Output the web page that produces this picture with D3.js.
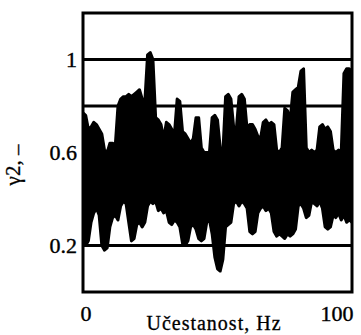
<!DOCTYPE html>
<html>
<head>
<meta charset="utf-8">
<script src="https://cdn.jsdelivr.net/npm/d3@7"></script>
<style>
  body { margin: 0; background: #fff; }
  svg { display: block; }
</style>
</head>
<body>
<div id="chart"></div>
<script>
// frequency axis, Hz (1 Hz steps)
const freqs = d3.range(0, 101)
// upper envelope of the coherence trace
const upper = [
  0.77, 0.76, 0.70, 0.71, 0.73, 0.72, 0.70, 0.68, 0.61, 0.60,
  0.64, 0.64, 0.63, 0.80, 0.83, 0.84, 0.84, 0.85, 0.84, 0.85,
  0.86, 0.87, 0.83, 0.82, 1.02, 1.03, 1.00, 0.75, 0.74, 0.72,
  0.66, 0.73, 0.72, 0.70, 0.68, 0.83, 0.82, 0.69, 0.68, 0.66,
  0.64, 0.66, 0.75, 0.75, 0.62, 0.60, 0.58, 0.60, 0.75, 0.76,
  0.74, 0.62, 0.60, 0.84, 0.85, 0.83, 0.71, 0.70, 0.84, 0.85,
  0.83, 0.70, 0.72, 0.72, 0.70, 0.67, 0.66, 0.73, 0.74, 0.72,
  0.73, 0.72, 0.61, 0.60, 0.62, 0.79, 0.78, 0.74, 0.86, 0.87,
  0.88, 0.95, 0.96, 0.62, 0.60, 0.61, 0.60, 0.61, 0.71, 0.72,
  0.70, 0.71, 0.69, 0.61, 0.60, 0.61, 0.60, 0.94, 0.96, 0.96,
  0.95
]
// lower envelope of the coherence trace
const lower = [
  0.22, 0.20, 0.22, 0.30, 0.34, 0.36, 0.33, 0.20, 0.18, 0.19,
  0.28, 0.32, 0.33, 0.31, 0.37, 0.39, 0.38, 0.30, 0.22, 0.23,
  0.29, 0.30, 0.28, 0.30, 0.37, 0.39, 0.38, 0.39, 0.35, 0.36,
  0.34, 0.35, 0.30, 0.29, 0.31, 0.30, 0.28, 0.21, 0.20, 0.22,
  0.28, 0.29, 0.27, 0.23, 0.22, 0.23, 0.30, 0.31, 0.25, 0.15,
  0.10, 0.09, 0.14, 0.28, 0.29, 0.30, 0.38, 0.39, 0.37, 0.39,
  0.38, 0.36, 0.26, 0.25, 0.26, 0.34, 0.36, 0.37, 0.35, 0.36,
  0.34, 0.26, 0.24, 0.25, 0.24, 0.23, 0.25, 0.24, 0.25, 0.27,
  0.37, 0.38, 0.36, 0.32, 0.33, 0.39, 0.38, 0.37, 0.39, 0.36,
  0.28, 0.27, 0.28, 0.33, 0.32, 0.34, 0.31, 0.33, 0.30, 0.31,
  0.30
]
const gridValues = [0.2, 0.4, 0.6, 0.8, 1.0]
const yTickValues = [0.2, 0.6, 1]
const xTickValues = [0, 100]
const xTitle = 'Učestanost, Hz'

const width = 361, height = 335
const margin = { top: 13, right: 9, bottom: 43, left: 83 }
const w = width - margin.left - margin.right
const h = height - margin.top - margin.bottom
const font = '"Liberation Serif", "DejaVu Serif", serif'

const svg = d3.select('#chart')
  .append('svg')
    .attr('width', width)
    .attr('height', height)

const g = svg.append('g')
  .attr('transform', 'translate(' + margin.left + ',' + margin.top + ')')

const x = d3.scaleLinear().domain([0, 100]).range([0, w])
const y = d3.scaleLinear().domain([0, 1.2]).range([h, 0])

// clip the trace to the frame
g.append('clipPath').attr('id', 'plot')
  .append('rect').attr('width', w).attr('height', h)

// horizontal grid lines
g.selectAll('.grid')
  .data(gridValues)
  .enter()
  .append('line')
    .attr('x1', 0)
    .attr('x2', w)
    .attr('y1', d => y(d))
    .attr('y2', d => y(d))
    .attr('stroke', '#000')
    .attr('stroke-width', 3)

// the trace, drawn as a solid band between its envelopes
const data = freqs.map((f, i) => ({ f: f, lo: lower[i], hi: upper[i] }))
const area = d3.area()
  .x(d => x(d.f))
  .y0(d => y(d.lo))
  .y1(d => y(d.hi))

g.append('path')
  .datum(data)
  .attr('clip-path', 'url(#plot)')
  .attr('d', area)
  .attr('fill', '#000')
  .attr('stroke', '#000')
  .attr('stroke-width', 3)
  .attr('stroke-linejoin', 'round')

// frame
g.append('rect')
  .attr('width', w)
  .attr('height', h)
  .attr('fill', 'none')
  .attr('stroke', '#000')
  .attr('stroke-width', 3)

// Y axis labels
const yAxis = g.append('g')
  .call(d3.axisLeft(y).tickValues(yTickValues).tickSize(0).tickPadding(6)
    .tickFormat(d3.format('~g')))
yAxis.select('.domain').remove()
yAxis.selectAll('text')
  .attr('font-family', font)
  .attr('font-size', 22)
  .attr('fill', '#000')
  .attr('stroke', '#000')
  .attr('stroke-width', 0.4)

// X axis labels
const xAxis = g.append('g')
  .attr('transform', 'translate(0,' + h + ')')
  .call(d3.axisBottom(x).tickValues(xTickValues).tickSize(0).tickPadding(13))
xAxis.select('.domain').remove()
xAxis.selectAll('text')
  .attr('font-family', font)
  .attr('font-size', 22)
  .attr('fill', '#000')
  .attr('stroke', '#000')
  .attr('stroke-width', 0.4)
  .attr('text-anchor', d => d === 0 ? 'start' : 'end')
  .attr('dx', d => d === 0 ? -3 : 1)

// axis titles
svg.append('text')
  .attr('x', 214)
  .attr('y', 330)
  .attr('text-anchor', 'middle')
  .attr('font-family', font)
  .attr('font-size', 20)
  .attr('letter-spacing', 1)
  .attr('stroke', '#000')
  .attr('stroke-width', 0.3)
  .text(xTitle)

const yt = svg.append('text')
  .attr('transform', 'translate(20,165)rotate(-90)')
  .attr('text-anchor', 'middle')
  .attr('font-family', font)
  .attr('font-size', 21)
  .attr('stroke', '#000')
  .attr('stroke-width', 0.3)
yt.append('tspan').text('γ2, ')
yt.append('tspan').attr('dy', 4).text('–')
</script>
</body>
</html>
